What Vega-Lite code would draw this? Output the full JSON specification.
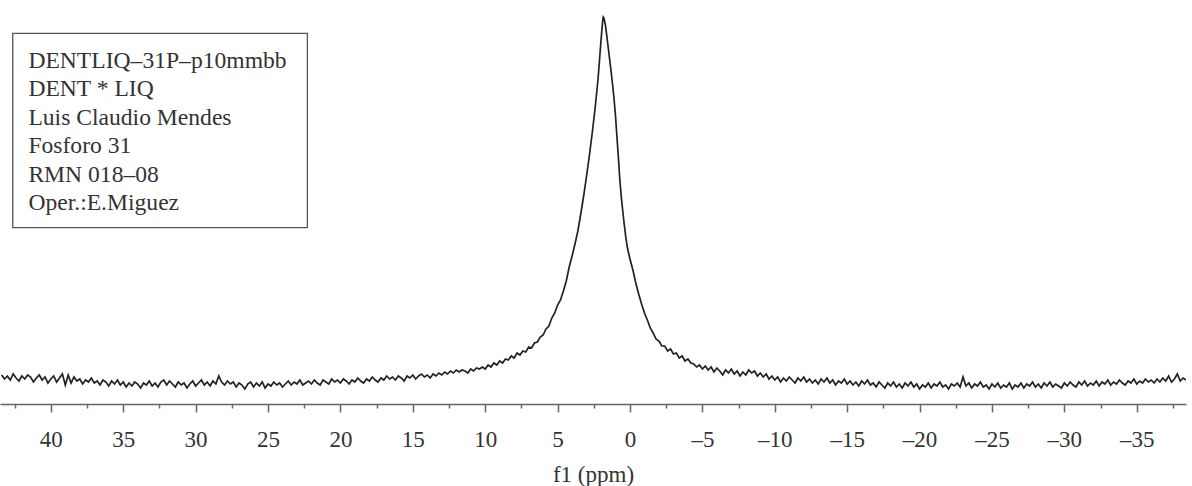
{
  "$schema": "https://vega.github.io/schema/vega-lite/v6.json",
  "width": 1186,
  "height": 404,
  "padding": {"left": 0, "top": 0, "right": 6, "bottom": 82},
  "autosize": {"type": "none"},
  "background": "white",
  "config": {"view": {"stroke": null}},
  "datasets": {
    "spectrum": [
      {"ppm":43.4,"intensity":29},{"ppm":43.2,"intensity":25},{"ppm":43.0,"intensity":28},{"ppm":42.8,"intensity":24},{"ppm":42.6,"intensity":30},{"ppm":42.4,"intensity":26},{"ppm":42.2,"intensity":23},{"ppm":42.0,"intensity":28},{"ppm":41.8,"intensity":25},{"ppm":41.6,"intensity":29},{"ppm":41.4,"intensity":27},{"ppm":41.2,"intensity":22},{"ppm":41.0,"intensity":26},{"ppm":40.8,"intensity":29},{"ppm":40.6,"intensity":24},{"ppm":40.4,"intensity":27},{"ppm":40.2,"intensity":21},{"ppm":40.0,"intensity":25},{"ppm":39.8,"intensity":28},{"ppm":39.6,"intensity":22},{"ppm":39.4,"intensity":26},
      {"ppm":39.2,"intensity":30},{"ppm":39.0,"intensity":19},{"ppm":38.8,"intensity":29},{"ppm":38.6,"intensity":21},{"ppm":38.4,"intensity":27},{"ppm":38.2,"intensity":23},{"ppm":38.0,"intensity":25},{"ppm":37.8,"intensity":20},{"ppm":37.6,"intensity":24},{"ppm":37.4,"intensity":22},{"ppm":37.2,"intensity":26},{"ppm":37.0,"intensity":21},{"ppm":36.8,"intensity":23},{"ppm":36.6,"intensity":19},{"ppm":36.4,"intensity":24},{"ppm":36.2,"intensity":22},{"ppm":36.0,"intensity":18},{"ppm":35.8,"intensity":23},{"ppm":35.6,"intensity":20},{"ppm":35.4,"intensity":24},{"ppm":35.2,"intensity":19},{"ppm":35.0,"intensity":22},{"ppm":34.8,"intensity":17},{"ppm":34.6,"intensity":21},
      {"ppm":34.4,"intensity":18},{"ppm":34.2,"intensity":22},{"ppm":34.0,"intensity":20},{"ppm":33.8,"intensity":16},{"ppm":33.6,"intensity":21},{"ppm":33.4,"intensity":19},{"ppm":33.2,"intensity":23},{"ppm":33.0,"intensity":18},{"ppm":32.8,"intensity":21},{"ppm":32.6,"intensity":17},{"ppm":32.4,"intensity":22},{"ppm":32.2,"intensity":24},{"ppm":32.0,"intensity":19},{"ppm":31.8,"intensity":23},{"ppm":31.6,"intensity":20},{"ppm":31.4,"intensity":17},{"ppm":31.2,"intensity":22},{"ppm":31.0,"intensity":19},{"ppm":30.8,"intensity":21},{"ppm":30.6,"intensity":16},{"ppm":30.4,"intensity":20},{"ppm":30.2,"intensity":23},{"ppm":30.0,"intensity":18},{"ppm":29.8,"intensity":21},
      {"ppm":29.6,"intensity":24},{"ppm":29.4,"intensity":19},{"ppm":29.2,"intensity":22},{"ppm":29.0,"intensity":18},{"ppm":28.8,"intensity":23},{"ppm":28.6,"intensity":20},{"ppm":28.4,"intensity":28},{"ppm":28.2,"intensity":22},{"ppm":28.0,"intensity":19},{"ppm":27.8,"intensity":23},{"ppm":27.6,"intensity":20},{"ppm":27.4,"intensity":22},{"ppm":27.2,"intensity":17},{"ppm":27.0,"intensity":21},{"ppm":26.8,"intensity":19},{"ppm":26.6,"intensity":15},{"ppm":26.4,"intensity":20},{"ppm":26.2,"intensity":22},{"ppm":26.0,"intensity":17},{"ppm":25.8,"intensity":21},{"ppm":25.6,"intensity":18},{"ppm":25.4,"intensity":22},{"ppm":25.2,"intensity":16},{"ppm":25.0,"intensity":20},{"ppm":24.8,"intensity":18},
      {"ppm":24.6,"intensity":22},{"ppm":24.4,"intensity":19},{"ppm":24.2,"intensity":21},{"ppm":24.0,"intensity":17},{"ppm":23.8,"intensity":20},{"ppm":23.6,"intensity":23},{"ppm":23.4,"intensity":19},{"ppm":23.2,"intensity":22},{"ppm":23.0,"intensity":20},{"ppm":22.8,"intensity":24},{"ppm":22.6,"intensity":19},{"ppm":22.4,"intensity":21},{"ppm":22.2,"intensity":23},{"ppm":22.0,"intensity":20},{"ppm":21.8,"intensity":24},{"ppm":21.6,"intensity":21},{"ppm":21.4,"intensity":19},{"ppm":21.2,"intensity":24},{"ppm":21.0,"intensity":22},{"ppm":20.8,"intensity":20},{"ppm":20.6,"intensity":25},
      {"ppm":20.4,"intensity":22},{"ppm":20.2,"intensity":24},{"ppm":20.0,"intensity":21},{"ppm":19.8,"intensity":25},{"ppm":19.6,"intensity":23},{"ppm":19.4,"intensity":20},{"ppm":19.2,"intensity":24},{"ppm":19.0,"intensity":22},{"ppm":18.8,"intensity":26},{"ppm":18.6,"intensity":23},{"ppm":18.4,"intensity":21},{"ppm":18.2,"intensity":25},{"ppm":18.0,"intensity":23},{"ppm":17.8,"intensity":27},{"ppm":17.6,"intensity":24},{"ppm":17.4,"intensity":22},{"ppm":17.2,"intensity":26},{"ppm":17.0,"intensity":24},{"ppm":16.8,"intensity":28},{"ppm":16.6,"intensity":25},
      {"ppm":16.4,"intensity":27},{"ppm":16.2,"intensity":24},{"ppm":16.0,"intensity":28},{"ppm":15.8,"intensity":26},{"ppm":15.6,"intensity":23},{"ppm":15.4,"intensity":28},{"ppm":15.2,"intensity":26},{"ppm":15.0,"intensity":29},{"ppm":14.8,"intensity":25},{"ppm":14.6,"intensity":28},{"ppm":14.4,"intensity":30},{"ppm":14.2,"intensity":27},{"ppm":14.0,"intensity":29},{"ppm":13.8,"intensity":26},{"ppm":13.6,"intensity":30},{"ppm":13.4,"intensity":28},{"ppm":13.2,"intensity":31},{"ppm":13.0,"intensity":29},{"ppm":12.8,"intensity":32},{"ppm":12.6,"intensity":30},{"ppm":12.4,"intensity":33},{"ppm":12.2,"intensity":31},{"ppm":12.0,"intensity":34},{"ppm":11.8,"intensity":32},{"ppm":11.6,"intensity":34},{"ppm":11.4,"intensity":33},{"ppm":11.2,"intensity":31},{"ppm":11.0,"intensity":35},{"ppm":10.8,"intensity":33},{"ppm":10.6,"intensity":36},{"ppm":10.4,"intensity":35},
      {"ppm":10.2,"intensity":37},{"ppm":10.0,"intensity":35},{"ppm":9.8,"intensity":39},{"ppm":9.6,"intensity":37},{"ppm":9.4,"intensity":41},{"ppm":9.2,"intensity":39},{"ppm":9.0,"intensity":43},{"ppm":8.8,"intensity":41},{"ppm":8.6,"intensity":45},{"ppm":8.4,"intensity":44},{"ppm":8.2,"intensity":48},{"ppm":8.0,"intensity":46},{"ppm":7.8,"intensity":51},{"ppm":7.6,"intensity":49},{"ppm":7.4,"intensity":53},{"ppm":7.2,"intensity":52},{"ppm":7.0,"intensity":57},{"ppm":6.8,"intensity":56},{"ppm":6.6,"intensity":61},{"ppm":6.4,"intensity":62},{"ppm":6.2,"intensity":67},{"ppm":6.0,"intensity":69},{"ppm":5.8,"intensity":75},{"ppm":5.6,"intensity":78},{"ppm":5.4,"intensity":86},{"ppm":5.2,"intensity":91},{"ppm":5.0,"intensity":99},{"ppm":4.8,"intensity":104},{"ppm":4.6,"intensity":113},{"ppm":4.4,"intensity":123},{"ppm":4.2,"intensity":137},{"ppm":4.0,"intensity":148},{"ppm":3.8,"intensity":160},{"ppm":3.6,"intensity":173},{"ppm":3.4,"intensity":190},{"ppm":3.2,"intensity":208},{"ppm":3.0,"intensity":228},{"ppm":2.8,"intensity":249},{"ppm":2.6,"intensity":272},{"ppm":2.4,"intensity":297},{"ppm":2.2,"intensity":326},{"ppm":2.1,"intensity":345},{"ppm":2.0,"intensity":364},{"ppm":1.9,"intensity":381},{"ppm":1.85,"intensity":387},{"ppm":1.8,"intensity":386},{"ppm":1.7,"intensity":379},{"ppm":1.6,"intensity":368},{"ppm":1.5,"intensity":356},{"ppm":1.4,"intensity":344},{"ppm":1.3,"intensity":332},{"ppm":1.2,"intensity":319},{"ppm":1.1,"intensity":305},{"ppm":1.0,"intensity":288},{"ppm":0.9,"intensity":267},{"ppm":0.8,"intensity":246},{"ppm":0.7,"intensity":224},{"ppm":0.6,"intensity":207},{"ppm":0.5,"intensity":193},{"ppm":0.4,"intensity":180},{"ppm":0.3,"intensity":168},{"ppm":0.2,"intensity":158},{"ppm":0.1,"intensity":151},{"ppm":0.0,"intensity":145},{"ppm":-0.2,"intensity":134},{"ppm":-0.4,"intensity":121},{"ppm":-0.6,"intensity":110},{"ppm":-0.8,"intensity":100},{"ppm":-1.0,"intensity":91},{"ppm":-1.2,"intensity":84},{"ppm":-1.4,"intensity":76},{"ppm":-1.6,"intensity":71},{"ppm":-1.8,"intensity":65},{"ppm":-2.0,"intensity":63},{"ppm":-2.2,"intensity":58},{"ppm":-2.4,"intensity":58},{"ppm":-2.6,"intensity":53},{"ppm":-2.8,"intensity":55},{"ppm":-3.0,"intensity":50},{"ppm":-3.2,"intensity":51},{"ppm":-3.4,"intensity":46},{"ppm":-3.6,"intensity":48},{"ppm":-3.8,"intensity":43},{"ppm":-4.0,"intensity":45},{"ppm":-4.2,"intensity":41},
      {"ppm":-4.4,"intensity":40},{"ppm":-4.6,"intensity":37},{"ppm":-4.8,"intensity":39},{"ppm":-5.0,"intensity":35},{"ppm":-5.2,"intensity":38},{"ppm":-5.4,"intensity":34},{"ppm":-5.6,"intensity":37},{"ppm":-5.8,"intensity":32},{"ppm":-6.0,"intensity":36},{"ppm":-6.2,"intensity":33},{"ppm":-6.4,"intensity":29},{"ppm":-6.6,"intensity":34},{"ppm":-6.8,"intensity":31},{"ppm":-7.0,"intensity":35},{"ppm":-7.2,"intensity":30},{"ppm":-7.4,"intensity":33},{"ppm":-7.6,"intensity":28},{"ppm":-7.8,"intensity":32},{"ppm":-8.0,"intensity":29},{"ppm":-8.2,"intensity":34},{"ppm":-8.4,"intensity":31},{"ppm":-8.6,"intensity":33},{"ppm":-8.8,"intensity":28},{"ppm":-9.0,"intensity":31},{"ppm":-9.2,"intensity":27},{"ppm":-9.4,"intensity":30},{"ppm":-9.6,"intensity":25},{"ppm":-9.8,"intensity":28},{"ppm":-10.0,"intensity":24},{"ppm":-10.2,"intensity":27},{"ppm":-10.4,"intensity":22},{"ppm":-10.6,"intensity":26},{"ppm":-10.8,"intensity":23},{"ppm":-11.0,"intensity":27},{"ppm":-11.2,"intensity":24},{"ppm":-11.4,"intensity":21},{"ppm":-11.6,"intensity":26},{"ppm":-11.8,"intensity":23},{"ppm":-12.0,"intensity":27},{"ppm":-12.2,"intensity":22},{"ppm":-12.4,"intensity":25},{"ppm":-12.6,"intensity":21},{"ppm":-12.8,"intensity":24},{"ppm":-13.0,"intensity":20},{"ppm":-13.2,"intensity":25},{"ppm":-13.4,"intensity":22},{"ppm":-13.6,"intensity":26},{"ppm":-13.8,"intensity":21},{"ppm":-14.0,"intensity":24},{"ppm":-14.2,"intensity":19},{"ppm":-14.4,"intensity":23},{"ppm":-14.6,"intensity":21},{"ppm":-14.8,"intensity":25},{"ppm":-15.0,"intensity":20},{"ppm":-15.2,"intensity":23},{"ppm":-15.4,"intensity":19},{"ppm":-15.6,"intensity":22},{"ppm":-15.8,"intensity":18},{"ppm":-16.0,"intensity":23},{"ppm":-16.2,"intensity":20},{"ppm":-16.4,"intensity":24},{"ppm":-16.6,"intensity":19},{"ppm":-16.8,"intensity":21},{"ppm":-17.0,"intensity":17},{"ppm":-17.2,"intensity":22},{"ppm":-17.4,"intensity":19},{"ppm":-17.6,"intensity":16},{"ppm":-17.8,"intensity":21},{"ppm":-18.0,"intensity":18},{"ppm":-18.2,"intensity":22},{"ppm":-18.4,"intensity":17},{"ppm":-18.6,"intensity":20},{"ppm":-18.8,"intensity":16},{"ppm":-19.0,"intensity":21},{"ppm":-19.2,"intensity":18},{"ppm":-19.4,"intensity":22},{"ppm":-19.6,"intensity":17},{"ppm":-19.8,"intensity":20},{"ppm":-20.0,"intensity":15},{"ppm":-20.2,"intensity":19},{"ppm":-20.4,"intensity":17},{"ppm":-20.6,"intensity":21},{"ppm":-20.8,"intensity":16},{"ppm":-21.0,"intensity":20},{"ppm":-21.2,"intensity":18},{"ppm":-21.4,"intensity":22},{"ppm":-21.6,"intensity":17},{"ppm":-21.8,"intensity":19},{"ppm":-22.0,"intensity":15},{"ppm":-22.2,"intensity":20},{"ppm":-22.4,"intensity":18},{"ppm":-22.6,"intensity":21},{"ppm":-22.8,"intensity":17},{"ppm":-23.0,"intensity":27},{"ppm":-23.2,"intensity":18},{"ppm":-23.4,"intensity":21},{"ppm":-23.6,"intensity":16},{"ppm":-23.8,"intensity":20},{"ppm":-24.0,"intensity":18},{"ppm":-24.2,"intensity":22},{"ppm":-24.4,"intensity":17},{"ppm":-24.6,"intensity":19},{"ppm":-24.8,"intensity":15},{"ppm":-25.0,"intensity":20},{"ppm":-25.2,"intensity":17},{"ppm":-25.4,"intensity":21},{"ppm":-25.6,"intensity":16},{"ppm":-25.8,"intensity":19},{"ppm":-26.0,"intensity":17},{"ppm":-26.2,"intensity":21},{"ppm":-26.4,"intensity":15},{"ppm":-26.6,"intensity":19},{"ppm":-26.8,"intensity":17},{"ppm":-27.0,"intensity":21},{"ppm":-27.2,"intensity":16},{"ppm":-27.4,"intensity":20},{"ppm":-27.6,"intensity":18},{"ppm":-27.8,"intensity":22},{"ppm":-28.0,"intensity":17},{"ppm":-28.2,"intensity":20},{"ppm":-28.4,"intensity":16},{"ppm":-28.6,"intensity":21},{"ppm":-28.8,"intensity":18},{"ppm":-29.0,"intensity":22},{"ppm":-29.2,"intensity":17},{"ppm":-29.4,"intensity":20},{"ppm":-29.6,"intensity":18},{"ppm":-29.8,"intensity":16},{"ppm":-30.0,"intensity":21},{"ppm":-30.2,"intensity":18},{"ppm":-30.4,"intensity":22},{"ppm":-30.6,"intensity":19},{"ppm":-30.8,"intensity":17},{"ppm":-31.0,"intensity":22},{"ppm":-31.2,"intensity":19},{"ppm":-31.4,"intensity":23},{"ppm":-31.6,"intensity":18},{"ppm":-31.8,"intensity":21},{"ppm":-32.0,"intensity":19},{"ppm":-32.2,"intensity":23},{"ppm":-32.4,"intensity":18},{"ppm":-32.6,"intensity":22},{"ppm":-32.8,"intensity":20},{"ppm":-33.0,"intensity":24},{"ppm":-33.2,"intensity":19},{"ppm":-33.4,"intensity":22},{"ppm":-33.6,"intensity":20},{"ppm":-33.8,"intensity":24},{"ppm":-34.0,"intensity":21},{"ppm":-34.2,"intensity":19},{"ppm":-34.4,"intensity":23},{"ppm":-34.6,"intensity":21},{"ppm":-34.8,"intensity":25},{"ppm":-35.0,"intensity":20},{"ppm":-35.2,"intensity":23},{"ppm":-35.4,"intensity":21},{"ppm":-35.6,"intensity":25},{"ppm":-35.8,"intensity":22},{"ppm":-36.0,"intensity":24},{"ppm":-36.2,"intensity":21},{"ppm":-36.4,"intensity":25},{"ppm":-36.6,"intensity":22},{"ppm":-36.8,"intensity":26},{"ppm":-37.0,"intensity":23},{"ppm":-37.2,"intensity":28},{"ppm":-37.4,"intensity":22},{"ppm":-37.6,"intensity":25},{"ppm":-37.8,"intensity":30},{"ppm":-38.0,"intensity":23},{"ppm":-38.2,"intensity":26},{"ppm":-38.4,"intensity":24}
    ],
    "box": [
      {"ppm": 42.63, "ppm2": 22.28, "intensity": 176.3, "intensity2": 370.7}
    ],
    "notes": [
      {"ppm": 41.55, "intensity": 336.5, "label": "DENTLIQ–31P–p10mmbb"},
      {"ppm": 41.55, "intensity": 308, "label": "DENT * LIQ"},
      {"ppm": 41.55, "intensity": 279.5, "label": "Luis Claudio Mendes"},
      {"ppm": 41.55, "intensity": 251, "label": "Fosforo 31"},
      {"ppm": 41.55, "intensity": 222.5, "label": "RMN 018–08"},
      {"ppm": 41.55, "intensity": 194, "label": "Oper.:E.Miguez"}
    ]
  },
  "resolve": {"axis": {"x": "independent"}},
  "layer": [
    {
      "data": {"name": "box"},
      "mark": {"type": "rect", "fill": "white", "stroke": "#555555", "strokeWidth": 1.3},
      "encoding": {
        "x": {
          "field": "ppm", "type": "quantitative",
          "scale": {"domain": [43.51, -38.4], "nice": false, "zero": false},
          "axis": {
            "orient": "bottom",
            "values": [42.5, 37.5, 32.5, 27.5, 22.5, 17.5, 12.5, 7.5, 2.5, -2.5, -7.5, -12.5, -17.5, -22.5, -27.5, -32.5, -37.5],
            "labels": false,
            "domain": false,
            "grid": false,
            "title": null,
            "tickSize": 4,
            "tickColor": "#666666",
            "tickWidth": 1.5
          }
        },
        "x2": {"field": "ppm2"},
        "y": {"field": "intensity", "type": "quantitative", "scale": {"domain": [0, 404], "nice": false, "zero": false}, "axis": null},
        "y2": {"field": "intensity2"}
      }
    },
    {
      "data": {"name": "spectrum"},
      "mark": {"type": "line", "color": "#222222", "strokeWidth": 1.7, "clip": true},
      "encoding": {
        "x": {
          "field": "ppm", "type": "quantitative",
          "axis": {
            "orient": "bottom",
            "title": "f1 (ppm)",
            "values": [40, 35, 30, 25, 20, 15, 10, 5, 0, -5, -10, -15, -20, -25, -30, -35],
            "labelExpr": "datum.value < 0 ? '–' + (-datum.value) : '' + datum.value",
            "tickSize": 8,
            "grid": false,
            "domainColor": "#666666",
            "domainWidth": 1.5,
            "tickColor": "#666666",
            "tickWidth": 1.5,
            "labelFont": "Liberation Serif",
            "labelFontSize": 23,
            "labelColor": "#333333",
            "labelPadding": 16,
            "labelOverlap": false,
            "labelFlush": false,
            "titleFont": "Liberation Serif",
            "titleFontSize": 23,
            "titleFontWeight": "normal",
            "titleColor": "#333333",
            "titlePadding": 12
          }
        },
        "y": {"field": "intensity", "type": "quantitative", "axis": null}
      }
    },
    {
      "data": {"name": "notes"},
      "mark": {"type": "text", "align": "left", "baseline": "alphabetic", "font": "Liberation Serif", "fontSize": 23.6, "color": "#333333"},
      "encoding": {
        "x": {"field": "ppm", "type": "quantitative", "axis": null},
        "y": {"field": "intensity", "type": "quantitative", "axis": null},
        "text": {"field": "label"}
      }
    }
  ]
}
